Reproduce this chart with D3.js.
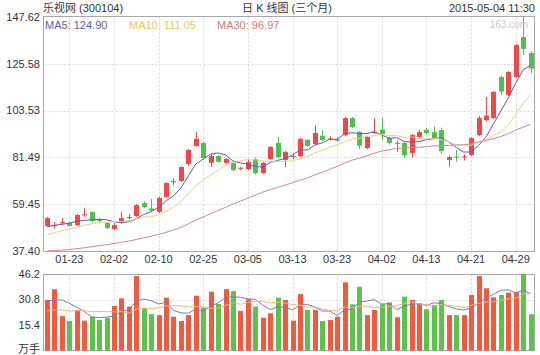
<!DOCTYPE html>
<html><head><meta charset="utf-8">
<script src="https://cdn.jsdelivr.net/npm/d3@7"></script>
<style>body{margin:0;background:#fff}svg{display:block}</style>
</head><body>
<svg id="c" width="540" height="355"></svg>
<script>
const dates = ["01-20","01-21","01-22","01-23","01-26","01-27","01-28","01-29","01-30","02-02","02-03","02-04","02-05","02-06","02-09","02-10","02-11","02-12","02-13","02-16","02-17","02-25","02-26","02-27","03-02","03-03","03-04","03-05","03-06","03-09","03-10","03-11","03-12","03-13","03-16","03-17","03-18","03-19","03-20","03-23","03-24","03-25","03-26","03-27","03-30","04-02","04-03","04-07","04-08","04-09","04-10","04-13","04-14","04-15","04-16","04-17","04-20","04-21","04-22","04-23","04-24","04-27","04-28","04-29","04-30","05-04"];
const opens  = [49.2,49.5,50.8,50.6,49.6,54.5,55.8,52.0,50.6,47.8,50.6,53.0,53.9,60.0,57.5,55.8,62.8,69.8,70.4,78.4,86.9,88.3,78.9,82.1,78.9,78.9,76.2,76.0,80.7,74.1,80.7,88.3,80.3,81.9,82.1,89.7,87.8,91.7,90.1,89.6,92.0,100.0,93.5,85.9,93.2,94.6,90.6,88.2,88.3,83.6,91.1,94.4,93.4,94.4,80.3,81.9,81.4,82.6,92.0,99.1,100.0,119.4,110.9,119.4,138.2,130.7];
const highs  = [53.4,51.0,53.0,51.0,54.8,57.6,56.0,53.0,51.0,50.5,55.7,55.0,59.5,60.8,61.9,63.0,69.8,71.5,77.3,85.5,93.4,88.8,83.0,82.5,81.2,79.5,77.0,80.5,81.5,79.3,86.8,91.1,84.5,83.0,90.7,90.2,96.7,94.4,91.5,91.0,100.5,100.5,94.0,91.6,100.0,100.0,91.0,89.5,88.8,92.5,94.5,95.5,96.0,95.5,82.5,85.0,83.0,91.0,101.0,109.9,112.8,120.0,122.2,135.0,147.62,131.5];
const lows   = [48.8,48.0,49.5,48.9,49.3,53.5,51.0,50.5,47.8,47.3,50.2,52.5,53.5,57.8,56.0,55.3,62.5,68.5,70.0,77.5,86.5,80.5,77.0,79.0,78.5,75.0,75.5,75.5,73.5,73.8,80.3,81.2,77.0,80.5,81.7,86.4,87.3,89.2,89.5,89.0,91.5,95.3,85.5,85.4,92.5,89.7,87.5,84.0,81.2,81.5,90.5,92.5,90.0,83.0,77.1,79.5,80.0,82.0,91.5,98.5,99.5,110.9,110.5,119.0,129.7,121.0];
const closes = [52.9,49.6,51.0,49.2,54.4,54.7,51.5,51.8,48.2,49.6,52.9,53.4,59.0,58.1,56.5,62.4,69.4,70.3,77.0,85.0,90.2,81.2,82.1,79.4,80.7,75.5,76.6,79.3,74.1,78.9,86.4,81.7,84.0,82.2,90.2,86.9,93.0,89.7,90.4,89.9,100.0,95.8,87.0,91.1,93.6,92.4,88.3,88.4,82.5,92.0,93.4,93.0,90.6,84.5,81.7,81.4,81.9,90.6,100.0,101.2,112.3,112.5,121.7,134.4,132.6,123.3];
const volumes = [30.5,37.0,20.8,17.8,24.5,18.0,20.4,18.4,19.8,26.9,31.5,26.5,45.0,25.5,22.0,21.4,31.9,20.4,17.8,21.4,33.1,25.9,35.5,28.1,37.1,35.9,23.9,30.9,26.5,19.8,22.5,31.9,30.5,18.0,34.1,24.5,24.5,17.8,18.4,20.4,41.2,27.9,38.5,21.4,24.5,27.9,29.1,20.1,32.5,30.5,28.5,24.9,27.5,30.5,21.4,21.4,21.4,33.5,45.0,37.6,32.1,33.5,34.9,35.2,46.2,21.9];
const ma5Head  = [48.8,49.5,50.0,50.5];
const ma10Head = [45.0,46.0,47.0,47.8,48.7,49.5,50.2,50.7,51.0];
const ma30Head = [37.40,37.6,37.8,38.1,38.5,38.9,39.4,39.9,40.4,40.9,41.5,42.1,42.8,43.6,44.4,45.2,46.2,47.3,48.5,50.2,51.9,53.5,55.0,56.5,58.0,59.5,60.9,62.3,63.7];
const volMa5Head  = [30.0,30.5,30.5,28.5];
const volMa10Head = [24.0,24.5,24.5,24.0,24.0,24.0,23.5,23.5,23.6];
const priceTicks = [37.40,59.45,81.49,103.53,125.58,147.62];
const volTicks = [15.4,30.8,46.2];
const xLabels = ["01-23","02-02","02-10","02-25","03-05","03-13","03-23","04-02","04-13","04-21","04-29"];
const maNames = ["MA5","MA10","MA30"];
const maLast = [124.90,111.05,96.97];
const title = "乐视网 (300104)";
const subtitle = "日 K 线图 (三个月)";
const stamp = "2015-05-04 11:30";

const RED = "#f04848", GREEN = "#4fbf4f";
const VRED = "#f25a40", VGREEN = "#5dc24a";
const MACOL = ["#5c5ca8", "#eccf86", "#d48888"];
const LEGCOL = ["#5c5ca8", "#e8c56a", "#d07878"];
const VMACOL = ["#7a7ab8", "#f0b878"];
const FONT = "'Liberation Sans','Noto Sans CJK SC',sans-serif";

function rolling(arr, n, head) {
  return arr.map((v, i) => {
    if (i < n - 1) return head[i];
    return d3.mean(arr.slice(i - n + 1, i + 1));
  });
}
const ma5 = rolling(closes, 5, ma5Head);
const ma10 = rolling(closes, 10, ma10Head);
const ma30 = rolling(closes, 30, ma30Head);
const vma5 = rolling(volumes, 5, volMa5Head);
const vma10 = rolling(volumes, 10, volMa10Head);

const svg = d3.select("#c").style("font-family", FONT);
const L = 43.5, R = 534.5, T = 16.5, B = 251.5, VT = 274.5, VB = 350.5;

const x = d3.scaleBand().domain(dates).range([43.3, 534.3]).paddingInner(0.3).paddingOuter(0.15);
const cx = d => x(d) + x.bandwidth() / 2;
const y = d3.scaleLinear().domain([37.40, 147.62]).range([251, 17]);
const yv = d3.scaleLinear().domain([0, 46.2]).range([350.5, 274]);

// grids
const g = svg.append("g").attr("stroke", "#d6d6d6").attr("stroke-dasharray", "2,2").attr("fill", "none");
priceTicks.slice(1, -1).forEach(t => g.append("line").attr("x1", L).attr("x2", R).attr("y1", Math.round(y(t)) + 0.5).attr("y2", Math.round(y(t)) + 0.5));
volTicks.slice(0, -1).forEach(t => g.append("line").attr("x1", L).attr("x2", R).attr("y1", Math.round(yv(t)) + 0.5).attr("y2", Math.round(yv(t)) + 0.5));
xLabels.forEach(lb => {
  const xx = Math.round(cx(lb)) + 0.5;
  g.append("line").attr("x1", xx).attr("x2", xx).attr("y1", T).attr("y2", B);
  g.append("line").attr("x1", xx).attr("x2", xx).attr("y1", VT).attr("y2", VB);
});

// frames
svg.append("rect").attr("x", L).attr("y", T).attr("width", R - L).attr("height", B - T).attr("fill", "none").attr("stroke", "#a8a8a8");
svg.append("rect").attr("x", L).attr("y", VT).attr("width", R - L).attr("height", VB - VT).attr("fill", "none").attr("stroke", "#a8a8a8");

// candles
const idx = d3.range(dates.length);
const cg = svg.append("g");
idx.forEach(i => {
  const up = closes[i] >= opens[i];
  const col = up ? RED : GREEN;
  const xc = Math.round(cx(dates[i])) + 0.5;
  cg.append("line").attr("x1", xc).attr("x2", xc).attr("y1", y(highs[i])).attr("y2", y(lows[i])).attr("stroke", col).attr("stroke-width", 1);
  const top = y(Math.max(opens[i], closes[i])), bot = y(Math.min(opens[i], closes[i]));
  cg.append("rect").attr("x", xc - 2.5).attr("width", 5).attr("y", top).attr("height", Math.max(1, bot - top)).attr("fill", col);
});

// MA lines
const line = d3.line().x((d, i) => cx(dates[i])).y(d => y(d));
[ma5, ma10, ma30].forEach((arr, k) => {
  svg.append("path").attr("d", line(arr)).attr("fill", "none").attr("stroke", MACOL[k]).attr("stroke-width", 1);
});

// volume bars
idx.forEach(i => {
  const up = closes[i] >= opens[i];
  svg.append("rect").attr("x", Math.round(cx(dates[i])) - 2).attr("width", 5)
    .attr("y", yv(volumes[i])).attr("height", yv(0) - yv(volumes[i]))
    .attr("fill", up ? VRED : VGREEN);
});
const vline = d3.line().x((d, i) => cx(dates[i])).y(d => yv(d));
[vma5, vma10].forEach((arr, k) => {
  svg.append("path").attr("d", vline(arr)).attr("fill", "none").attr("stroke", VMACOL[k]).attr("stroke-width", 1);
});

// axis labels
const tx = svg.append("g").attr("font-size", 11).attr("fill", "#333");
priceTicks.forEach(t => tx.append("text").attr("x", 40).attr("y", y(t)).attr("dy", "0.35em").attr("text-anchor", "end").text(t.toFixed(2)));
volTicks.forEach(t => tx.append("text").attr("x", 40).attr("y", yv(t)).attr("dy", "0.35em").attr("text-anchor", "end").text(t.toFixed(1)));
tx.append("text").attr("x", 40).attr("y", 349).attr("dy", "0.35em").attr("text-anchor", "end").text("万手");
xLabels.forEach(lb => tx.append("text").attr("x", cx(lb)).attr("y", 263).attr("text-anchor", "middle").text(lb));

// header
tx.append("text").attr("x", 43).attr("y", 12).text(title);
tx.append("text").attr("x", 287).attr("y", 12).attr("text-anchor", "middle").text(subtitle);
tx.append("text").attr("x", 535).attr("y", 12).attr("text-anchor", "end").text(stamp);

// legend
const legX = [45, 129, 217];
maNames.forEach((n, k) => {
  svg.append("text").attr("x", legX[k]).attr("y", 29).attr("font-size", 11).attr("fill", LEGCOL[k]).text(n + ": " + maLast[k].toFixed(2));
});
svg.append("text").attr("x", 528).attr("y", 28).attr("font-size", 10).attr("text-anchor", "end").attr("fill", "#c8c8c8").text("163.com");
</script>
</body></html>
